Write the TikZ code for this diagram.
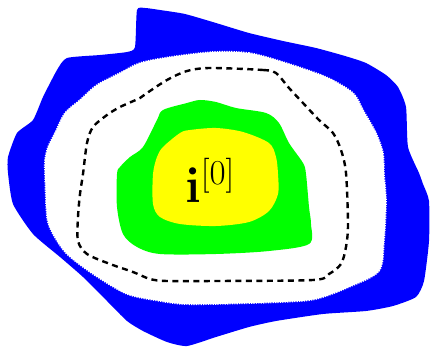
\RequirePackage{fix-cm}
\documentclass[tikz,border=0pt]{standalone}
\usepackage{amsmath}
\definecolor{pblue}{RGB}{0,0,255}
\definecolor{pgreen}{RGB}{0,255,0}
\definecolor{pyellow}{RGB}{255,255,0}
\tikzset{
  rim/.style={draw=white,line width=1.6pt,dash pattern=on 1.2pt off 1.2pt},
  bound/.style={draw=black,line width=2.4pt,dash pattern=on 6pt off 4.5pt}
}
\begin{document}
\begin{tikzpicture}[x=1pt,y=-1pt]
\useasboundingbox (0,0) rectangle (432,347);
% blue outer region
\fill[pblue] plot[smooth cycle,tension=0.35] coordinates {
(137,10) (145,8) (160,10) (185,14) (216,23) (249,33) (283,41) (316,48) (345,56) (366,63) (386,75) (398,87) (406,107) (408,147) (419,173) (423,184) (429,201) (429,241) (424,281) (416,297) (393,306) (366,311) (323,314) (276,321) (249,327) (216,337) (187,346) (167,342) (143,331) (127,321) (107,301) (83,277) (60,257) (33,234) (13,204) (8,173) (8,157) (17,133) (33,120) (43,97) (57,70) (67,58) (100,55) (127,52) (135,47)};
% white inner region
\fill[white] plot[smooth cycle,tension=0.5] coordinates {
(213,52) (249,53) (283,62) (326,77) (353,93) (363,110) (376,133) (383,153) (384,174) (386,201) (384,241) (379,271) (349,287) (316,299) (283,302) (216,304) (183,304) (160,301) (127,294) (93,274) (67,254) (53,234) (47,217) (45,174) (45,160) (48,147) (55,133) (65,113) (80,100) (97,85) (120,73) (140,63) (170,57)};
\draw[rim] plot[smooth cycle,tension=0.5] coordinates {
(213,52) (249,53) (283,62) (326,77) (353,93) (363,110) (376,133) (383,153) (384,174) (386,201) (384,241) (379,271) (349,287) (316,299) (283,302) (216,304) (183,304) (160,301) (127,294) (93,274) (67,254) (53,234) (47,217) (45,174) (45,160) (48,147) (55,133) (65,113) (80,100) (97,85) (120,73) (140,63) (170,57)};
% dashed boundary
\draw[bound] plot[smooth cycle,tension=0.5] coordinates {
(210,68) (263,70) (276,73) (289,88) (303,103) (319,120) (333,133) (341,150) (346,173) (348,224) (346,247) (341,264) (329,274) (313,280) (216,281) (167,281) (150,279) (133,272) (110,264) (87,254) (78,241) (78,217) (80,194) (83,174) (87,143) (93,127) (107,115) (120,107) (140,98) (147,93) (167,80) (187,71)};
% green region
\fill[pgreen] plot[smooth cycle,tension=0.5] coordinates {
(163,110) (187,103) (200,100) (216,102) (236,108) (266,113) (279,123) (289,143) (303,163) (306,174) (309,207) (311,224) (309,244) (269,251) (216,254) (160,254) (137,247) (123,234) (117,207) (117,174) (120,167) (130,157) (143,147) (157,120)};
% yellow region
\fill[pyellow] plot[smooth cycle,tension=0.5] coordinates {
(157,157) (163,147) (180,133) (190,130) (216,128) (243,132) (269,143) (276,157) (278,174) (278,194) (269,211) (249,222) (216,226) (180,224) (160,217) (153,204) (153,174)};
\node[anchor=base west,inner sep=0pt] (lbl) at (185,203) {\fontsize{50}{55}\selectfont$\mathbf{i}^{[0]}$};
\end{tikzpicture}
\end{document}
